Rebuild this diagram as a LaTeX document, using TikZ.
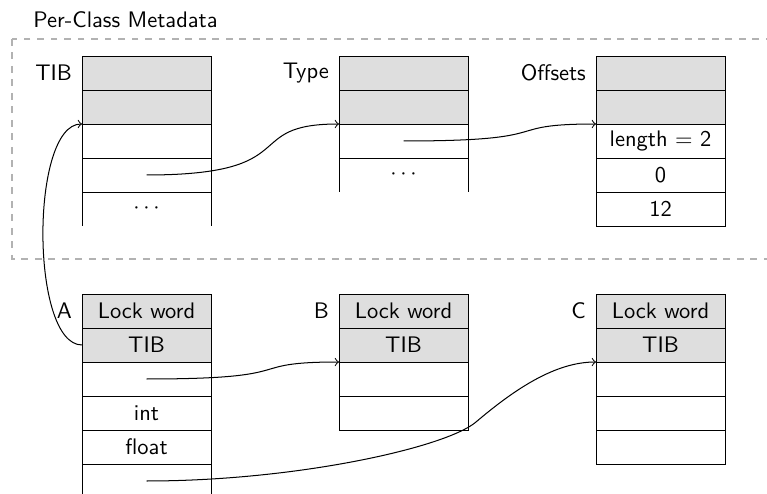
\documentclass[tikz,border=0pt]{standalone}
\usetikzlibrary{arrows}
\begin{document}
\begin{tikzpicture}[x=0.4445pt, y=-0.4445pt,
  cell/.style={draw, minimum width=57.3pt, minimum height=15.1pt, inner sep=0pt, outer sep=0pt, font=\sffamily},
  hcell/.style={cell, fill=black!13},
  opencell/.style={cell, draw=none},
  lbl/.style={anchor=east, font=\sffamily, xshift=-1pt},
  ptr/.style={->, line width=0.45pt},
  region/.style={draw=black!30, line width=0.8pt, dashed}]
\useasboundingbox (0,0) rectangle (767,494);
\clip (0,0) rectangle (767,494);

% metadata region
\draw[region] (12,39) rectangle (800,259);
\node[anchor=base west, inner sep=0pt, font=\sffamily] (title) at (33,28) {Per-Class Metadata};

% TIB table
\node[hcell] (tib1) at (146.5,73) {};
\node[hcell] (tib2) at (146.5,107) {};
\node[cell] (tib3) at (146.5,141) {};
\node[cell] (tib4) at (146.5,175) {};
\node[opencell] (tib5) at (146.5,209) {$\cdots$};
\draw (tib5.north west) -- (tib5.south west) (tib5.north east) -- (tib5.south east);
\node[lbl] (ltib) at (tib1.west) {TIB};

% Type table
\node[hcell] (type1) at (403.5,73) {};
\node[hcell] (type2) at (403.5,107) {};
\node[cell] (type3) at (403.5,141) {};
\node[opencell] (type4) at (403.5,175) {$\cdots$};
\draw (type4.north west) -- (type4.south west) (type4.north east) -- (type4.south east);
\node[lbl] (ltype) at (type1.west) {Type};

% Offsets table
\node[hcell] (off1) at (660.5,73) {};
\node[hcell] (off2) at (660.5,107) {};
\node[cell] (off3) at (660.5,141) {length = 2};
\node[cell] (off4) at (660.5,175) {0};
\node[cell] (off5) at (660.5,209) {12};
\node[lbl] (loff) at (off1.west) {Offsets};

% object A
\node[hcell] (a1) at (146.5,311) {Lock word};
\node[hcell] (a2) at (146.5,345) {TIB};
\node[cell] (a3) at (146.5,379) {};
\node[cell] (a4) at (146.5,413) {int};
\node[cell] (a5) at (146.5,447) {float};
\node[cell] (a6) at (146.5,481) {};
\node[lbl] (la) at (a1.west) {A};

% object B
\node[hcell] (b1) at (403.5,311) {Lock word};
\node[hcell] (b2) at (403.5,345) {TIB};
\node[cell] (b3) at (403.5,379) {};
\node[cell] (b4) at (403.5,413) {};
\node[lbl] (lb) at (b1.west) {B};

% object C
\node[hcell] (c1) at (660.5,311) {Lock word};
\node[hcell] (c2) at (660.5,345) {TIB};
\node[cell] (c3) at (660.5,379) {};
\node[cell] (c4) at (660.5,413) {};
\node[cell] (c5) at (660.5,447) {};
\node[lbl] (lc) at (c1.west) {C};

% pointers
\draw[ptr] (a2.west) .. controls +(-52,0) and +(-52,0) .. (tib3.north west);
\draw[ptr] (tib4.center) .. controls +(160,0) and +(-100,0) .. (type3.north west);
\draw[ptr] (type3.center) .. controls +(160,0) and +(-100,0) .. (off3.north west);
\draw[ptr] (a3.center) .. controls +(160,0) and +(-100,0) .. (b3.north west);
\coordinate (bend) at (476,422);
\draw[ptr] (a6.center) .. controls +(150,0) and +(-30,25.5) .. (bend)
  .. controls +(40,-34) and +(-40,0) .. (c3.north west);
\end{tikzpicture}
\end{document}
